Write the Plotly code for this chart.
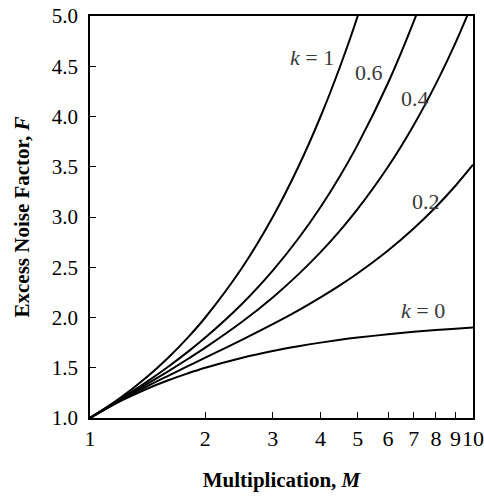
import plotly.graph_objects as go

# Multiplication values (x) and excess noise factor F
M = [1, 1.2, 1.4, 1.6, 1.8, 2, 2.5, 3, 3.5, 4, 4.5, 5, 6, 7, 8, 9, 10]
F_k0 = [1.0, 1.167, 1.286, 1.375, 1.444, 1.5, 1.6, 1.667, 1.714, 1.75, 1.778, 1.8, 1.833, 1.857, 1.875, 1.889, 1.9]
F_k02 = [1.0, 1.173, 1.309, 1.42, 1.516, 1.6, 1.78, 1.933, 2.071, 2.2, 2.322, 2.44, 2.667, 2.886, 3.1, 3.311, 3.52]
F_k04 = [1.0, 1.18, 1.331, 1.465, 1.587, 1.7, 1.96, 2.2, 2.429, 2.65, 2.867, 3.08, 3.5, 3.914, 4.325, 4.733, 5.14]
M_k06 = [1, 1.2, 1.4, 1.6, 1.8, 2, 2.5, 3, 3.5, 4, 4.5, 5, 6, 7, 8]
F_k06 = [1.0, 1.187, 1.354, 1.51, 1.658, 1.8, 2.14, 2.467, 2.786, 3.1, 3.411, 3.72, 4.333, 4.943, 5.55]
M_k1 = [1, 1.2, 1.4, 1.6, 1.8, 2, 2.5, 3, 3.5, 4, 4.5, 5, 6]
F_k1 = [1.0, 1.2, 1.4, 1.6, 1.8, 2.0, 2.5, 3.0, 3.5, 4.0, 4.5, 5.0, 6.0]

x_ticks = [1, 2, 3, 4, 5, 6, 7, 8, 9, 10]
x_tick_labels = ["1", "2", "3", "4", "5", "6", "7", "8", "9", "10"]
y_ticks = [1.0, 1.5, 2.0, 2.5, 3.0, 3.5, 4.0, 4.5, 5.0]
y_tick_labels = ["1.0", "1.5", "2.0", "2.5", "3.0", "3.5", "4.0", "4.5", "5.0"]

series = [
    ("k = 0", M, F_k0),
    ("k = 0.2", M, F_k02),
    ("k = 0.4", M, F_k04),
    ("k = 0.6", M_k06, F_k06),
    ("k = 1", M_k1, F_k1),
]

fig = go.Figure()
for name, xs, ys in series:
    fig.add_trace(go.Scatter(x=xs, y=ys, mode="lines", name=name,
                             line=dict(color="black", width=2, shape="spline"),
                             showlegend=False))

SERIF = "Liberation Serif, Times New Roman, serif"
ann_font = dict(family=SERIF, size=22, color="#3a3a3a")
labels = [
    ("<i>k</i> = 1", 0.580, 4.59),
    ("0.6", 0.728, 4.44),
    ("0.4", 0.849, 4.18),
    ("0.2", 0.876, 3.15),
    ("<i>k</i> = 0", 0.869, 2.07),
]
annotations = [dict(x=x, y=y, xref="x", yref="y", text=t, showarrow=False,
                    font=ann_font) for t, x, y in labels]

fig.update_layout(
    width=484, height=497,
    margin=dict(l=90, r=11, t=16, b=79),
    paper_bgcolor="white", plot_bgcolor="white",
    font=dict(family=SERIF, size=20, color="black"),
    annotations=annotations,
    xaxis=dict(
        type="log", range=[0, 1], automargin=False,
        tickvals=x_ticks, ticktext=x_tick_labels, tickangle=0,
        ticklabeloverflow="allow",
        ticks="inside", ticklen=6, tickwidth=1, tickcolor="black",
        showline=True, linecolor="black", linewidth=1.5, mirror=True,
        showgrid=False, zeroline=False,
        tickfont=dict(family=SERIF, size=22, color="black"),
        title=dict(text="<b>Multiplication, <i>M</i></b>",
                   font=dict(family=SERIF, size=21, color="black"), standoff=22),
    ),
    yaxis=dict(
        range=[1, 5], automargin=False,
        tickvals=y_ticks, ticktext=y_tick_labels,
        ticklabeloverflow="allow", ticklabelstandoff=6,
        ticks="inside", ticklen=6, tickwidth=1, tickcolor="black",
        showline=True, linecolor="black", linewidth=1.5, mirror=True,
        showgrid=False, zeroline=False,
        tickfont=dict(family=SERIF, size=21, color="black"),
        title=dict(text="<b>Excess Noise Factor, <i>F</i></b>",
                   font=dict(family=SERIF, size=21, color="black"), standoff=16),
    ),
)

# remove the default 8px page margin so the 484x497 figure fills the window
fig.write_html("out.html", config={"displayModeBar": False},
               post_script="document.body.style.margin='0';")
